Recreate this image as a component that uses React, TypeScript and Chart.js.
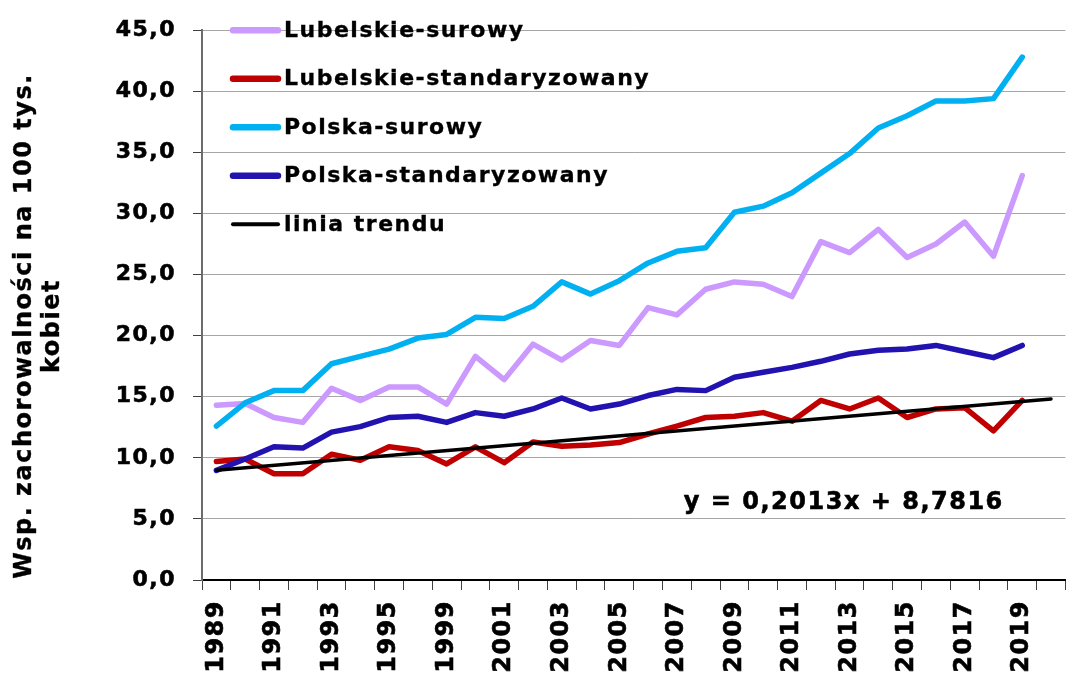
import React, { useEffect, useRef } from "react";
import { Chart, registerables } from "chart.js";

Chart.register(...registerables);

// ---- data ----
const years = [
  "1989", "1990", "1991", "1992", "1993", "1994", "1995", "1996",
  "1999", "2000", "2001", "2002", "2003", "2004", "2005", "2006",
  "2007", "2008", "2009", "2010", "2011", "2012", "2013", "2014",
  "2015", "2016", "2017", "2018", "2019",
];
// one extra slot at the end of the axis (trend forecast period)
const forecastSlot = [""];

const lubelskieSurowy = [
  14.3, 14.45, 13.3, 12.9, 15.7, 14.7, 15.8, 15.8, 14.4, 18.3, 16.4, 19.3, 18.0, 19.6, 19.2,
  22.3, 21.7, 23.8, 24.4, 24.2, 23.2, 27.7, 26.8, 28.7, 26.4, 27.5, 29.3, 26.5, 33.1,
];
const lubelskieStandaryzowany = [
  9.7, 9.9, 8.7, 8.7, 10.3, 9.8, 10.9, 10.6, 9.5, 10.9, 9.6, 11.3, 10.95, 11.05, 11.25,
  11.95, 12.6, 13.3, 13.4, 13.7, 13.0, 14.7, 14.0, 14.9, 13.3, 14.0, 14.1, 12.2, 14.7,
];
const polskaSurowy = [
  12.6, 14.5, 15.5, 15.5, 17.7, 18.3, 18.9, 19.8, 20.1, 21.5, 21.4, 22.4, 24.4, 23.4, 24.5,
  25.95, 26.9, 27.2, 30.1, 30.6, 31.7, 33.3, 34.9, 37.0, 38.0, 39.2, 39.2, 39.4, 42.8,
];
const polskaStandaryzowany = [
  8.97, 9.9, 10.9, 10.8, 12.1, 12.55, 13.3, 13.4, 12.9, 13.7, 13.4, 14.0, 14.9, 14.0, 14.4,
  15.1, 15.6, 15.5, 16.6, 17.0, 17.4, 17.9, 18.5, 18.8, 18.9, 19.2, 18.7, 18.2, 19.2,
];
// trend line end points (first year, forecast slot)
const trendStart = 8.98;
const trendEnd = 14.82;
const trendEquation = "y = 0,2013x + 8,7816";

const seriesNames = [
  "Lubelskie-surowy",
  "Lubelskie-standaryzowany",
  "Polska-surowy",
  "Polska-standaryzowany",
  "linia trendu",
];
const yTitleLines = ["Wsp. zachorowalności na 100 tys.", "kobiet"];
const yTicks = { min: 0, max: 45, step: 5 };

const FONT = "'DejaVu Sans', Verdana, sans-serif";
const SPACING = "1.5px";

export default function App() {
  const ref = useRef<HTMLCanvasElement | null>(null);

  useEffect(() => {
    const canvas = ref.current;
    if (!canvas) return;
    const labels = [...years, ...forecastSlot];
    const trend: (number | null)[] = labels.map(() => null);
    trend[0] = trendStart;
    trend[labels.length - 1] = trendEnd;

    const colors = ["#CC99FF", "#C00000", "#00B0F0", "#2212B0", "#000000"];
    const widths = [5.5, 5.5, 5.5, 5.5, 3.5];
    const values = [lubelskieSurowy, lubelskieStandaryzowany, polskaSurowy, polskaStandaryzowany, trend];
    const orders = [4, 3, 2, 1, 0];

    const textWithStroke = (ctx: CanvasRenderingContext2D, s: string, x: number, y: number) => {
      ctx.strokeText(s, x, y);
      ctx.fillText(s, x, y);
    };

    const overlay = {
      id: "overlay",
      beforeDraw(chart: any) {
        (chart.ctx as any).letterSpacing = SPACING;
      },
      afterDraw(chart: any) {
        const ctx = chart.ctx as CanvasRenderingContext2D;
        const area = chart.chartArea;
        ctx.save();
        (ctx as any).letterSpacing = SPACING;
        ctx.fillStyle = "#000";
        // legend inside plot area
        ctx.font = `bold 22px ${FONT}`;
        ctx.textBaseline = "alphabetic";
        ctx.textAlign = "left";
        seriesNames.forEach((name, i) => {
          const y = area.top + i * 48.5;
          ctx.strokeStyle = colors[i];
          ctx.lineWidth = i < 4 ? 6.5 : 4;
          ctx.lineCap = "round";
          ctx.beginPath();
          ctx.moveTo(area.left + 31, y);
          ctx.lineTo(area.left + 76, y);
          ctx.stroke();
          ctx.strokeStyle = "#000";
          ctx.lineWidth = 0.35;
          textWithStroke(ctx, name, area.left + 82, y + 6.5);
        });
        // trend equation
        const xs = chart.scales.x;
        const ys = chart.scales.y;
        ctx.font = `bold 24px ${FONT}`;
        ctx.textAlign = "center";
        ctx.textBaseline = "middle";
        ctx.lineWidth = 0.6;
        textWithStroke(ctx, trendEquation, xs.getPixelForValue(21.8), ys.getPixelForValue(6.3));
        // y axis title
        ctx.lineWidth = 0.35;
        ctx.translate(39, 326);
        ctx.rotate(-Math.PI / 2);
        ctx.textAlign = "center";
        textWithStroke(ctx, yTitleLines[0], 0, -14);
        textWithStroke(ctx, yTitleLines[1], 0, 14);
        ctx.restore();
      },
    };

    const chart = new Chart(canvas, {
      type: "line",
      data: {
        labels,
        datasets: values.map((v, i) => ({
          label: seriesNames[i],
          data: v,
          borderColor: colors[i],
          backgroundColor: colors[i],
          borderWidth: widths[i],
          pointRadius: 0,
          tension: 0,
          spanGaps: true,
          fill: false,
          borderCapStyle: "round" as const,
          borderJoinStyle: "round" as const,
          order: orders[i],
        })),
      },
      options: {
        animation: false,
        responsive: false,
        devicePixelRatio: 1,
        layout: { padding: { left: 0, right: 11, top: 28, bottom: 0 } },
        plugins: {
          legend: { display: false },
          tooltip: { enabled: false },
        },
        scales: {
          x: {
            type: "category",
            offset: true,
            grid: {
              display: true,
              drawOnChartArea: false,
              drawTicks: true,
              tickLength: 10,
              tickColor: "#404040",
              offset: true,
            },
            border: { color: "#000000", width: 2 },
            ticks: {
              autoSkip: false,
              maxRotation: 90,
              minRotation: 90,
              padding: 10,
              color: "#000",
              textStrokeColor: "#000",
              textStrokeWidth: 0.6,
              font: { family: FONT, size: 24, weight: "bold" },
              callback: (_v: any, i: number) => (i % 2 === 0 && i < years.length ? years[i] : ""),
            },
            afterFit: (scale: any) => {
              scale.height = 673 - 580;
            },
          },
          y: {
            min: yTicks.min,
            max: yTicks.max,
            grid: {
              color: "#A6A6A6",
              lineWidth: 1,
              tickLength: 9,
              tickColor: "#404040",
              drawTicks: true,
            },
            border: { color: "#6D6D6D", width: 2 },
            ticks: {
              stepSize: yTicks.step,
              padding: 17,
              color: "#000",
              textStrokeColor: "#000",
              textStrokeWidth: 0.6,
              font: { family: FONT, size: 22, weight: "bold" },
              callback: (v: any) => Number(v).toFixed(1).replace(".", ","),
            },
            afterFit: (scale: any) => {
              scale.width = 202;
            },
          },
        },
      },
      plugins: [overlay],
    });
    return () => chart.destroy();
  }, []);

  return (
    <div
      style={{
        position: "fixed",
        left: 0,
        top: 0,
        width: 1072,
        height: 673,
        overflow: "hidden",
        background: "#fff",
      }}
    >
      <canvas ref={ref} width={1090} height={673} style={{ display: "block", width: 1090, height: 673 }} />
    </div>
  );
}
